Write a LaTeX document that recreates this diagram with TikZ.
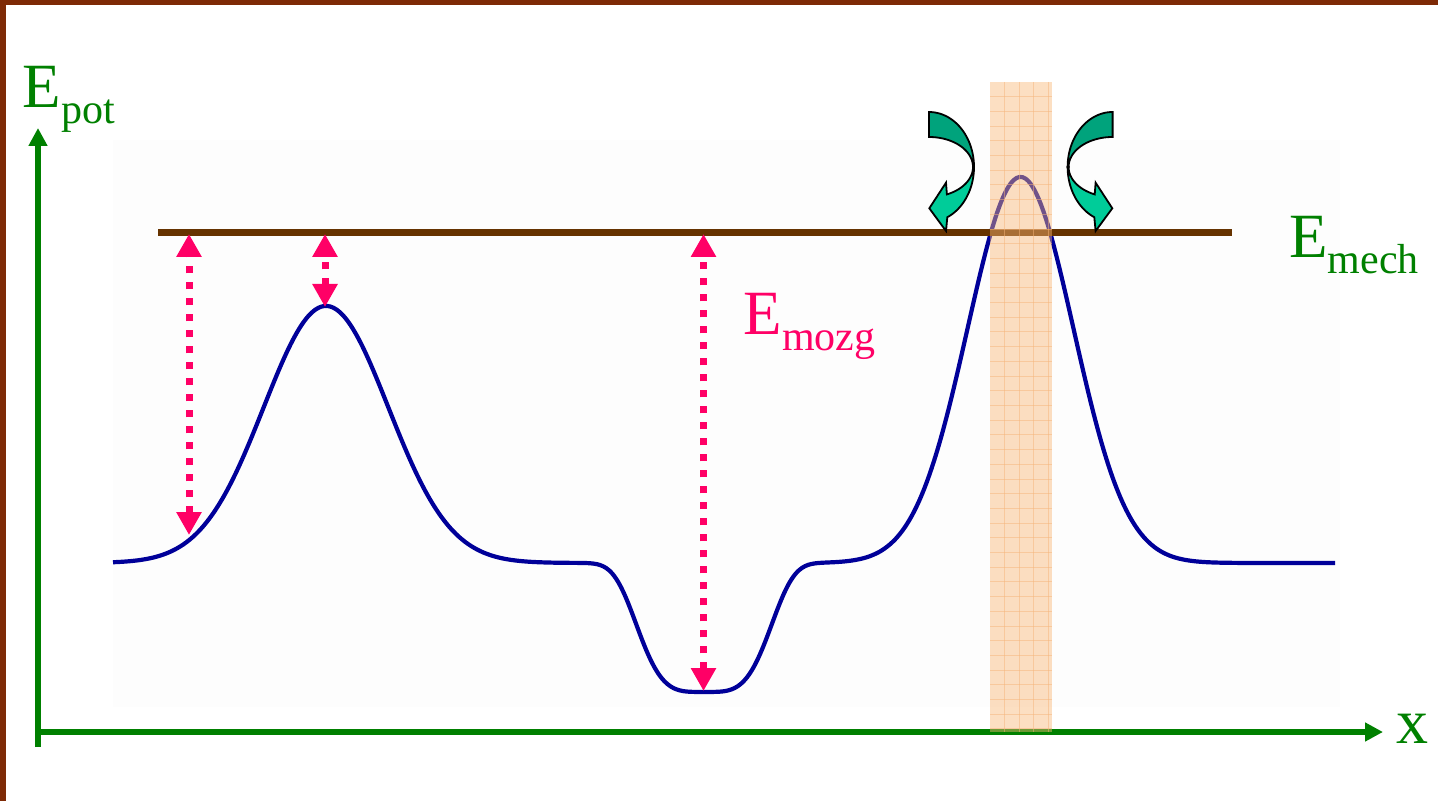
\documentclass[tikz,border=0pt]{standalone}
\usepackage{fontspec}
\setmainfont{Liberation Serif}
\usetikzlibrary{arrows.meta}

\definecolor{axisgreen}{HTML}{008000}
\definecolor{mozgpink}{HTML}{FF0066}
\definecolor{curveblue}{HTML}{000099}
\definecolor{mechbrown}{HTML}{663300}
\definecolor{framebrown}{HTML}{7E2A06}
\definecolor{plotbg}{HTML}{FDFDFD}
\definecolor{bandorange}{HTML}{F9B877}
\definecolor{gridorange}{HTML}{F6B57A}
\definecolor{tealdark}{HTML}{00A37C}
\definecolor{teallight}{HTML}{00CC99}

\newcommand{\Elabel}[1]{E\raisebox{-8pt}{\fontsize{21}{21}\selectfont #1}}

\begin{document}
\begin{tikzpicture}[
    x=0.5pt, y=-0.5pt,
    axis/.style={axisgreen, line width=2.9pt, -{Triangle[width=9pt,length=9pt]}},
    lbl/.style={anchor=base west, inner sep=0pt, font=\fontsize{31.5}{31.5}\selectfont},
    gap/.style={mozgpink, line width=3.5pt, dash pattern=on 3.5pt off 4.5pt,
    {Triangle[width=12pt,length=11.5pt]}-{Triangle[width=12pt,length=11.5pt]}},
    curve/.style={curveblue, line width=2.1pt, line join=round},
    mech/.style={mechbrown, line width=3.5pt},
    band/.style={fill=bandorange, fill opacity=0.45},
    ribbon/.style={draw=black, line width=0.9pt},
    declare function={
      bump(\t,\s)=exp(max(-9,-(\t/\s)*(\t/\s)));
      well(\t,\s)=exp(max(-9,-(\t/\s)*(\t/\s)*(\t/\s)*(\t/\s)));
    }
]
\useasboundingbox (0,0) rectangle (1438,801);

% frame and plot area
\fill[framebrown] (0,0) rectangle (1438,5);
\fill[framebrown] (0,0) rectangle (6,801);
\fill[plotbg] (113,140) rectangle (1340,707);

% axes
\coordinate (yfoot) at (38,747);
\coordinate (ytip) at (38,128);
\coordinate (xfoot) at (35,732);
\coordinate (xtip) at (1383,732);
\draw[axis] (yfoot) -- (ytip);
\draw[axis] (xfoot) -- (xtip);

% potential energy
\draw[curve] plot[domain=113:1335, samples=400, smooth]
  (\x, {563 - 257*bump(\x-326,88) + 129*well(\x-704,73) - 386*bump(\x-1020.5,75)});

% mechanical energy
\coordinate (mechL) at (158,233);
\coordinate (mechR) at (1232,233);
\draw[mech] (mechL) -- (mechR);

% kinetic energy gaps
\coordinate (top1) at (189,234);
\coordinate (bot1) at (189,535);
\coordinate (top2) at (325,234);
\coordinate (bot2) at (325,307);
\coordinate (top3) at (703.5,234);
\coordinate (bot3) at (703.5,691);
\draw[gap] (bot1) -- (top1);
\draw[gap] (bot2) -- (top2);
\draw[gap] (bot3) -- (top3);

% barrier band
\fill[band] (990,82) rectangle (1052,732);
\foreach \gy in {96.7,111.4,...,730}
  \draw[gridorange, line width=0.4pt, opacity=0.5] (990,\gy) -- (1052,\gy);
\foreach \gx in {1004.5,1019,1033.5,1048}
  \draw[gridorange, line width=0.4pt, opacity=0.5] (\gx,82) -- (\gx,732);

% turning arrows
\foreach \mx/\sx in {0/1,2041.6/-1}{
\begin{scope}[shift={(\mx,0)}, xscale=\sx]
  \filldraw[ribbon, fill=tealdark]
    plot[domain=-90:0, samples=30] ({929+45*cos(\x)},{167+55*sin(\x)})
    -- plot[domain=0:-90, samples=30] ({929+44*cos(\x)},{167+30*sin(\x)}) -- cycle;
  \filldraw[ribbon, fill=teallight]
    plot[domain=0:66, samples=25] ({929+45*cos(\x)},{167+55*sin(\x)})
    -- (946,231) -- (929.3,208.3) -- (946,182.7)
    -- plot[domain=66:0, samples=25] ({929+44*cos(\x)},{167+30*sin(\x)}) -- cycle;
\end{scope}
}

% labels
\node[lbl, text=axisgreen] (epot) at (22.5,107.7) {\Elabel{pot}};
\node[lbl, text=axisgreen] (emech) at (1289,257.3) {\Elabel{mech}};
\node[lbl, text=mozgpink] (emozg) at (743.3,335) {\Elabel{mozg}};
\node[lbl, text=axisgreen, font=\fontsize{32}{32}\selectfont] (xlab) at (1396.5,743.3) {x};

\end{tikzpicture}
\end{document}
